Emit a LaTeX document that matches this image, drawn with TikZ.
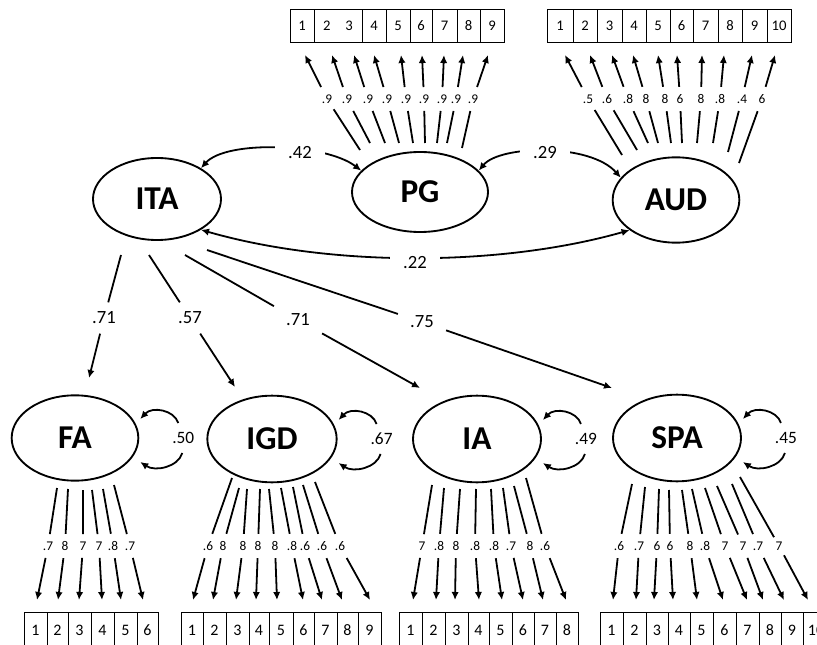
\documentclass[tikz,border=0pt]{standalone}
\usepackage{fontspec}
\setmainfont{Carlito}
\usetikzlibrary{shapes.geometric,arrows.meta,calc}
\begin{document}
\begin{tikzpicture}[x=0.75pt,y=-0.75pt,
  lat/.style={ellipse,draw,line width=1.4pt,inner sep=0pt,font=\fontsize{25}{30}\selectfont\bfseries},
  cell/.style={draw,line width=0.7pt,inner sep=0pt},
  topcell/.style={cell,minimum height=24.75pt,font=\fontsize{11}{13}\selectfont},
  botcell/.style={cell,minimum height=27pt,font=\fontsize{12}{14}\selectfont},
  load/.style={inner xsep=1pt,inner ysep=5.5pt,font=\fontsize{10}{12}\selectfont},
  pathlbl/.style={inner xsep=9pt,inner ysep=7pt,font=\fontsize{14}{16}\selectfont},
  corlbl/.style={fill=white,inner xsep=10pt,inner ysep=2pt,font=\fontsize{14}{16}\selectfont},
  reslbl/.style={font=\fontsize{13}{15}\selectfont},
  ind/.style={line width=1.35pt,-{Latex[length=6pt,width=5.5pt]}},
  arr/.style={line width=1.35pt,-{Latex[length=6pt,width=5.5pt]}},
  dbl/.style={line width=1.35pt,{Latex[length=6pt,width=5.5pt]}-{Latex[length=6pt,width=5.5pt]}},
]
\useasboundingbox (0,0) rectangle (817,645);
\fill[white] (0,0) rectangle (817,645);
\clip (0,0) rectangle (817,645);

% latent variables
\node[lat,minimum width=96pt,minimum height=61.5pt] (ITA) at (157,199) {ITA};
\node[lat,minimum width=102pt,minimum height=60pt] (PG) at (420,192) {PG};
\node[lat,minimum width=95pt,minimum height=64pt] (AUD) at (676,200) {AUD};
\node[lat,minimum width=95pt,minimum height=64pt] (FA) at (75,438) {FA};
\node[lat,minimum width=97pt,minimum height=65pt] (IGD) at (272,439) {IGD};
\node[lat,minimum width=96pt,minimum height=65pt] (IA) at (477,439) {IA};
\node[lat,minimum width=96pt,minimum height=65pt] (SPA) at (677,438) {SPA};

% correlations
\draw[dbl] (ITA.35) .. controls (226,140) and (325,143) .. (PG.160);
\draw[dbl] (PG.20) .. controls (500,145) and (590,143) .. (AUD.158);
\draw[dbl] (ITA.-35) .. controls (330,267) and (500,267) .. (AUD.-147);
\node[corlbl] (c42) at (300,153) {.42};
\node[corlbl] (c29) at (545,153) {.29};
\node[corlbl] (c22) at (415,263) {.22};

% structural paths
\coordinate (s1) at (121,255); \node[pathlbl] (p1) at (104,318) {.71}; \coordinate (t1) at (89,378);
\coordinate (s2) at (149,255); \node[pathlbl] (p2) at (190,318) {.57}; \coordinate (t2) at (235,387);
\coordinate (s3) at (185,255); \node[pathlbl] (p3) at (298,320) {.71}; \coordinate (t3) at (420,388);
\coordinate (s4) at (207,250); \node[pathlbl] (p4) at (422,322) {.75}; \coordinate (t4) at (612,388);
\foreach \k in {1,2,3,4}{\draw[arr] (s\k) -- (p\k) -- (t\k);}

% residual loops
\foreach \n/\v in {FA/.50, IGD/.67, IA/.49, SPA/.45}{
  \coordinate (\n-a) at ($(\n.east)+(39,-15)$);
  \coordinate (\n-b) at ($(\n.east)+(1,-19)$);
  \coordinate (\n-c) at ($(\n.east)+(43,15)$);
  \coordinate (\n-d) at ($(\n.east)+(1,24)$);
  \draw[arr] (\n-a) .. controls ($(\n.east)+(35,-28)$) and ($(\n.east)+(13,-32)$) .. (\n-b);
  \draw[arr] (\n-c) .. controls ($(\n.east)+(39,29)$) and ($(\n.east)+(16,34)$) .. (\n-d);
  \node[reslbl] (\n-r) at ($(\n.east)+(44,0)$) {\v};
}

% PG indicators
\foreach \sx/\sy/\lx/\lt/\tx [count=\i] in {360/150/327/.9/305, 370/143/347/.9/332, 385/143/368/.9/354, 399/143/387/.9/374, 413/143/406/.9/401, 425/143/424/.9/422, 437/143/442/.9/444, 447/143/456/.9/463, 462/148/473/.9/488}{
  \coordinate (PGs\i) at (\sx,\sy);
  \node[load] (PGl\i) at (\lx,99) {\lt};
  \coordinate (PGt\i) at (\tx,55);
  \draw[ind] (PGs\i) -- (PGl\i) -- (PGt\i);
}
% AUD indicators
\foreach \sx/\sy/\lx/\lt/\tx [count=\i] in {622/155/588/.5/565, 637/150/607/.6/590, 648/143/628/.8/612, 658/143/646/8/633, 671/143/665/8/658, 682/143/680/6/677, 697/143/701/8/702, 713/143/720/.8/724, 728/152/742/.4/752, 739/163/762/6/775}{
  \coordinate (AUDs\i) at (\sx,\sy);
  \node[load] (AUDl\i) at (\lx,99) {\lt};
  \coordinate (AUDt\i) at (\tx,55);
  \draw[ind] (AUDs\i) -- (AUDl\i) -- (AUDt\i);
}
% FA indicators
\foreach \sx/\sy/\lx/\lt/\tx [count=\i] in {57/488/48/.7/37, 68/489/65/8/58, 83/490/83/7/79, 92/490/99/7/102, 103/489/113/.8/121, 114/485/130/.7/143}{
  \coordinate (FAs\i) at (\sx,\sy);
  \node[load] (FAl\i) at (\lx,546) {\lt};
  \coordinate (FAt\i) at (\tx,600);
  \draw[ind] (FAs\i) -- (FAl\i) -- (FAt\i);
}
% IGD indicators
\foreach \sx/\sy/\lx/\lt/\tx [count=\i] in {232/478/208/.6/193, 239/488/223/8/213, 247/489/243/8/236, 260/489/258/8/256, 269/489/275/8/277, 281/488/292/.8/303, 293/487/305/.6/322, 303/485/322/.6/342, 315/482/340/.6/370}{
  \coordinate (IGDs\i) at (\sx,\sy);
  \node[load] (IGDl\i) at (\lx,546) {\lt};
  \coordinate (IGDt\i) at (\tx,600);
  \draw[ind] (IGDs\i) -- (IGDl\i) -- (IGDt\i);
}
% IA indicators
\foreach \sx/\sy/\lx/\lt/\tx [count=\i] in {432/485/422/7/413, 444/488/439/.8/436, 460/489/456/8/455, 476/489/475/.8/479, 491/489/494/.8/502, 503/488/511/.7/523, 514/486/530/8/543, 526/478/545/.6/566}{
  \coordinate (IAs\i) at (\sx,\sy);
  \node[load] (IAl\i) at (\lx,546) {\lt};
  \coordinate (IAt\i) at (\tx,600);
  \draw[ind] (IAs\i) -- (IAl\i) -- (IAt\i);
}
% SPA indicators
\foreach \sx/\sy/\lx/\lt/\tx [count=\i] in {632/484/619/.6/613, 645/487/639/.7/636, 659/489/657/6/654, 669/490/670/6/673, 682/490/690/8/697, 692/489/705/.8/723, 705/488/725/7/747, 717/486/743/7/763, 732/484/758/.7/784, 740/477/779/7/808}{
  \coordinate (SPAs\i) at (\sx,\sy);
  \node[load] (SPAl\i) at (\lx,546) {\lt};
  \coordinate (SPAt\i) at (\tx,600);
  \draw[ind] (SPAs\i) -- (SPAl\i) -- (SPAt\i);
}

% item boxes
\foreach \a/\b/\t [count=\i] in {290/314/1, 314/362/{2\hspace{11pt}3}, 362/386/4, 386/410/5, 410/432/6, 432/457/7, 457/480/8, 480/504/9}{
  \pgfmathsetmacro\w{(\b-\a)*0.75}
  \node[topcell,minimum width=\w pt] (PGb\i) at ({(\a+\b)/2},25.5) {\t};
}
\foreach \a/\b/\t [count=\i] in {547/573/1, 573/597/2, 597/622/3, 622/646/4, 646/670/5, 670/693/6, 693/718/7, 718/742/8, 742/767/9, 767/791/10}{
  \pgfmathsetmacro\w{(\b-\a)*0.75}
  \node[topcell,minimum width=\w pt] (AUDb\i) at ({(\a+\b)/2},25.5) {\t};
}
\foreach \a/\b/\t [count=\i] in {24/47/1, 47/68/2, 68/91/3, 91/114/4, 114/137/5, 137/158/6}{
  \pgfmathsetmacro\w{(\b-\a)*0.75}
  \node[botcell,minimum width=\w pt] (FAb\i) at ({(\a+\b)/2},630) {\t};
}
\foreach \a/\b/\t [count=\i] in {181/203/1, 203/226/2, 226/249/3, 249/269/4, 269/293/5, 293/314/6, 314/337/7, 337/358/8, 358/381/9}{
  \pgfmathsetmacro\w{(\b-\a)*0.75}
  \node[botcell,minimum width=\w pt] (IGDb\i) at ({(\a+\b)/2},630) {\t};
}
\foreach \a/\b/\t [count=\i] in {399/422/1, 422/445/2, 445/468/3, 468/489/4, 489/512/5, 512/534/6, 534/556/7, 556/578/8}{
  \pgfmathsetmacro\w{(\b-\a)*0.75}
  \node[botcell,minimum width=\w pt] (IAb\i) at ({(\a+\b)/2},630) {\t};
}
\foreach \a/\b/\t [count=\i] in {600/623/1, 623/646/2, 646/668/3, 668/690/4, 690/713/5, 713/736/6, 736/759/7, 759/781/8, 781/803/9, 803/829/10}{
  \pgfmathsetmacro\w{(\b-\a)*0.75}
  \node[botcell,minimum width=\w pt] (SPAb\i) at ({(\a+\b)/2},630) {\t};
}
\end{tikzpicture}
\end{document}
